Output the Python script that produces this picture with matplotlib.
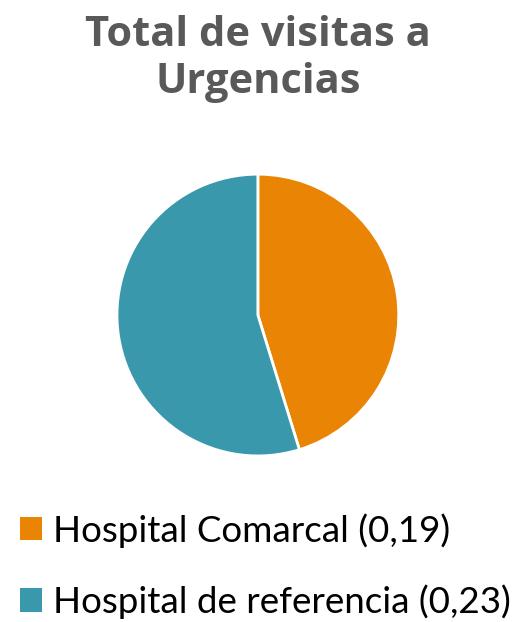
import matplotlib.pyplot as plt
from matplotlib.patches import Patch

labels = ["Hospital Comarcal (0,19)", "Hospital de referencia (0,23)"]
values = [0.19, 0.23]
colors = ["#EA8404", "#3A98AC"]

fig = plt.figure(figsize=(5.22, 6.22), dpi=100)

fig.text(0.494, 0.905, "Total de visitas a\nUrgencias", ha="center", va="center",
         fontsize=30, fontweight="bold", color="#595959", family="Open Sans",
         linespacing=1.2)

ax = fig.add_axes([0.224, 0.267, 0.540, 0.453])
ax.pie(values, colors=colors, startangle=90, counterclock=False,
       wedgeprops=dict(edgecolor="white", linewidth=2))
ax.set_xlim(-1, 1)
ax.set_ylim(-1, 1)
ax.set_aspect("equal")
ax.axis("off")

handles = [Patch(facecolor=c, edgecolor="none") for c in colors]
fig.legend(handles, labels, loc="upper left", bbox_to_anchor=(0.01, 0.199),
           frameon=False, prop={"family": "Lato", "size": 26.5},
           handlelength=0.6, handleheight=0.6, handletextpad=0.3,
           labelspacing=1.0, borderaxespad=0)

fig.savefig("out.png", dpi=100)
